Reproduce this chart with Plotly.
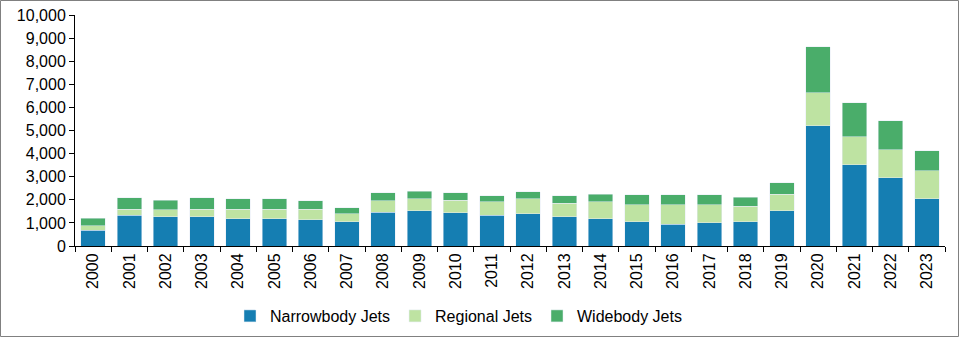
import plotly.graph_objects as go

years = [str(y) for y in range(2000, 2024)]
narrowbody = [690, 1340, 1260, 1260, 1170, 1170, 1130, 1040, 1470, 1520, 1430, 1340,
              1390, 1260, 1170, 1060, 950, 1000, 1040, 1520, 5200, 3510, 2950, 2050]
regional = [180, 250, 300, 330, 420, 430, 460, 350, 480, 520, 560, 570,
            650, 600, 740, 720, 830, 780, 690, 730, 1430, 1220, 1210, 1200]
widebody = [340, 490, 430, 490, 450, 440, 360, 260, 350, 340, 310, 260,
            300, 310, 340, 430, 430, 430, 390, 480, 2000, 1470, 1260, 870]

W, H = 960, 338
ml, mr, mt, mb = 75, 15, 15, 92

fig = go.Figure()
fig.add_bar(x=years, y=narrowbody, name="Narrowbody Jets", marker_color="#157EB2")
fig.add_bar(x=years, y=regional, name="Regional Jets", marker_color="#BEE3A2")
fig.add_bar(x=years, y=widebody, name="Widebody Jets", marker_color="#4AAD6A")

pw = W - ml - mr
ph = H - mt - mb
x0 = (0.5 - ml) / pw
x1 = (W - 1.5 - ml) / pw
y0 = -(H - 1.5 - mt - ph) / ph
y1 = (H - mb - 0.5) / ph

fig.update_layout(
    width=W, height=H,
    barmode="stack", bargap=0.33,
    margin=dict(l=ml, r=mr, t=mt, b=mb, autoexpand=False),
    paper_bgcolor="white", plot_bgcolor="white",
    font=dict(family="Liberation Sans, Arial", size=16, color="#000"),
    legend=dict(orientation="h", x=(230 - ml) / pw, xanchor="left",
                y=-(316 - (H - mb)) / ph, yanchor="middle",
                bgcolor="rgba(0,0,0,0)", font=dict(size=16), itemwidth=30,
                traceorder="normal", tracegroupgap=0),
    xaxis=dict(type="category", showline=True, linecolor="#000", linewidth=1,
               ticks="outside", tickson="boundaries", ticklen=5, tickcolor="#000",
               tickangle=-90, showgrid=False),
    yaxis=dict(range=[0, 10000], dtick=1000, tickformat=",", showline=True,
               linecolor="#000", linewidth=1, ticks="outside", ticklen=5,
               tickcolor="#000", showgrid=False, zeroline=False),
    shapes=[dict(type="rect", xref="paper", yref="paper", x0=x0, x1=x1, y0=y0, y1=y1,
                 line=dict(color="#808080", width=1), fillcolor="rgba(0,0,0,0)")],
)

fig.write_html("out.html")
